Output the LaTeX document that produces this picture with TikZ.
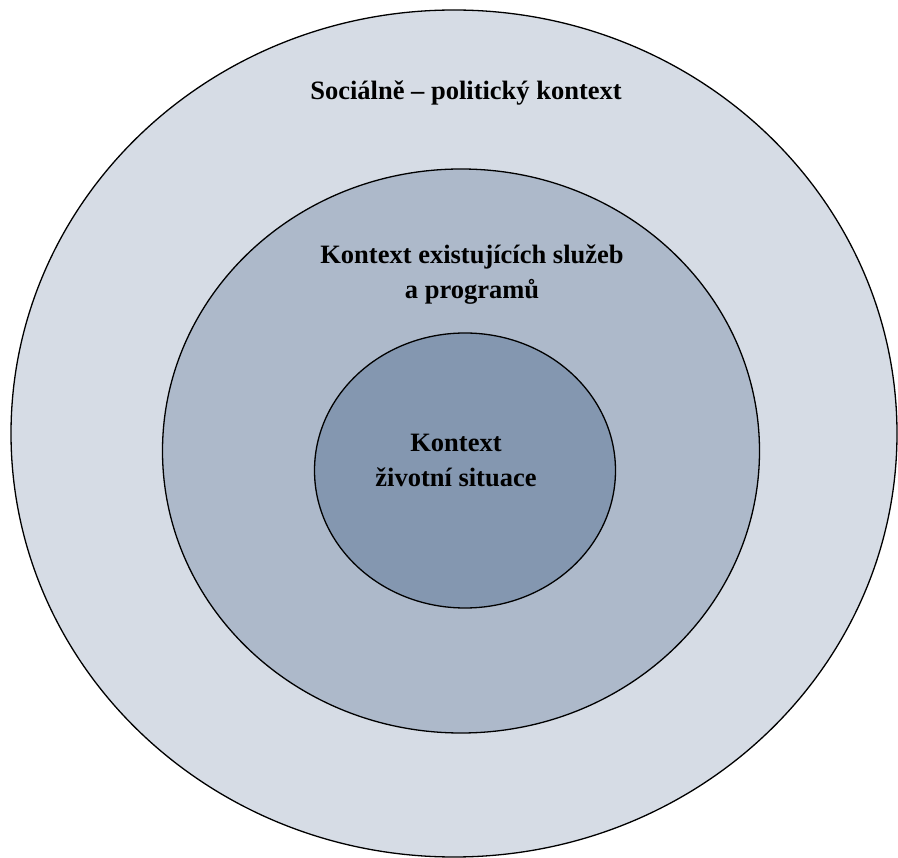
\documentclass[tikz,border=0pt]{standalone}
\usepackage{fontspec}
\setmainfont{Liberation Serif}
\usetikzlibrary{shapes.geometric}
\definecolor{ringA}{HTML}{D6DCE5}
\definecolor{ringB}{HTML}{ADB9CA}
\definecolor{ringC}{HTML}{8497B0}
\tikzset{
  ring/.style={ellipse, draw=black, line width=1.3pt, inner sep=0pt},
  lbl/.style={align=center, inner sep=0pt, font=\fontsize{26.5}{35}\selectfont\bfseries, text=black}
}
\begin{document}
\begin{tikzpicture}[x=1pt,y=-1pt]
\useasboundingbox (0,0) rectangle (898,858);
\node[ring, fill=ringA, minimum width=886pt, minimum height=847pt] (outer) at (454,433.5) {};
\node[ring, fill=ringB, minimum width=597pt, minimum height=564pt] (middle) at (461,451) {};
\node[ring, fill=ringC, minimum width=301pt, minimum height=275pt] (inner) at (465,470.5) {};
\node[lbl] (tOuter) at (466,93) {Sociálně – politický kontext};
\node[lbl] (tMiddle) at (472,275) {Kontext existujících služeb\\a programů};
\node[lbl] (tInner) at (456,460) {Kontext\\životní situace};
\end{tikzpicture}
\end{document}
